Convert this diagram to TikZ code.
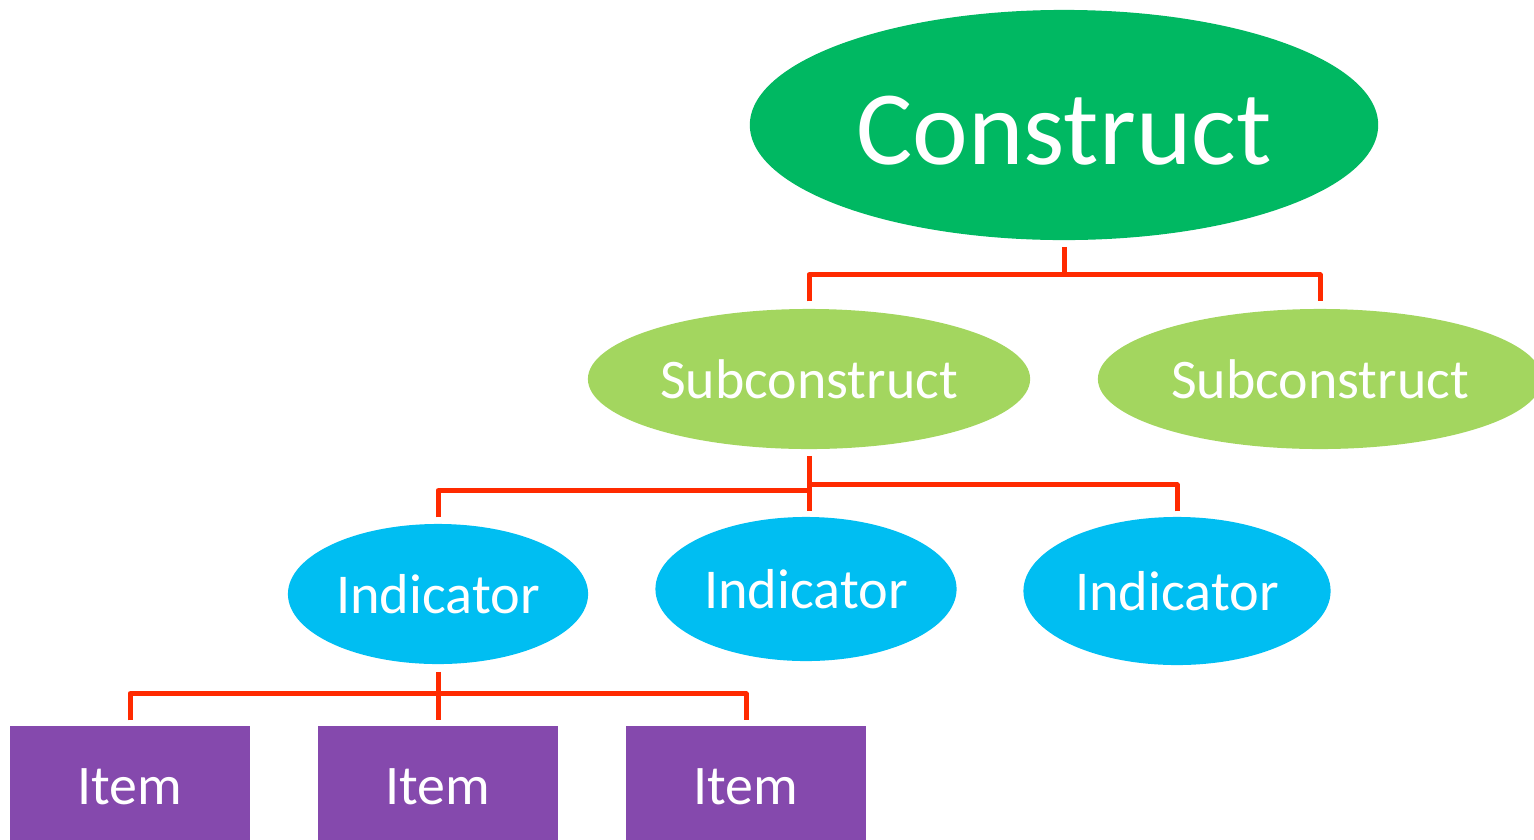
\documentclass[tikz,border=0pt]{standalone}
\usepackage{fontspec}
\setmainfont{Carlito}
\usetikzlibrary{shapes.geometric}
\definecolor{cgreen}{HTML}{00B862}
\definecolor{lgreen}{HTML}{A3D65F}
\definecolor{cyanb}{HTML}{00BEF2}
\definecolor{purp}{HTML}{8549AD}
\definecolor{conred}{HTML}{FF2A00}
\tikzset{
  constr/.style={ellipse, fill=cgreen, inner sep=0pt, text=white, minimum width=6.28cm, minimum height=2.30cm, font=\fontsize{30}{36}\selectfont},
  subc/.style={ellipse, fill=lgreen, inner sep=0pt, text=white, minimum width=4.42cm, minimum height=1.40cm, font=\fontsize{15.9}{19}\selectfont},
  indic/.style={ellipse, fill=cyanb, inner sep=0pt, text=white, minimum width=3.01cm, minimum height=1.44cm, font=\fontsize{16}{19}\selectfont},
  itembox/.style={rectangle, fill=purp, inner sep=0pt, text=white, minimum width=2.40cm, minimum height=1.22cm, font=\fontsize{15.9}{19}\selectfont},
  conn/.style={draw=conred, line width=0.05cm, line join=round}
}
\begin{document}
\begin{tikzpicture}[x=0.01cm, y=-0.01cm]
\useasboundingbox (0,0) rectangle (1534,839);
\begin{scope}
\clip (0,0) rectangle (1534,839);
\node[constr] (c) at (1064,125) {\raisebox{-1.7pt}[\height][\depth]{Construct}};
\node[subc] (s1) at (809,379) {Subconstruct};
\node[subc, minimum width=4.44cm] (s2) at (1320,379) {Subconstruct};
\node[indic, minimum width=3.00cm, minimum height=1.40cm] (i1) at (438,594) {Indicator};
\node[indic] (i2) at (806,589) {Indicator};
\node[indic, minimum width=3.07cm, minimum height=1.48cm] (i3) at (1177,591) {Indicator};
\node[itembox] (t1) at (130,787) {Item};
\node[itembox] (t2) at (438,787) {Item};
\node[itembox] (t3) at (746,787) {Item};
\end{scope}
% level 1
\draw[conn] ([yshift=-0.06cm]c.south) -- ([yshift=-0.34cm]c.south);
\draw[conn] ([yshift=0.07cm]s1.north) |- ([yshift=-0.34cm]c.south) -| ([yshift=0.07cm]s2.north);
% level 2
\draw[conn] ([yshift=-0.06cm]s1.south) -- ([yshift=0.05cm]s1.south |- i2.north);
\draw[conn] ([yshift=0.06cm]i1.north) |- ([yshift=-0.41cm]s1.south);
\draw[conn] ([yshift=0.05cm]i3.north) |- ([yshift=-0.35cm]s1.south);
% level 3
\draw[conn] ([yshift=-0.07cm]i1.south) -- ([yshift=0.05cm]i1.south |- t2.north);
\draw[conn] ([yshift=0.05cm]t1.north) |- ([yshift=-0.29cm]i1.south) -| ([yshift=0.05cm]t3.north);
\end{tikzpicture}
\end{document}
